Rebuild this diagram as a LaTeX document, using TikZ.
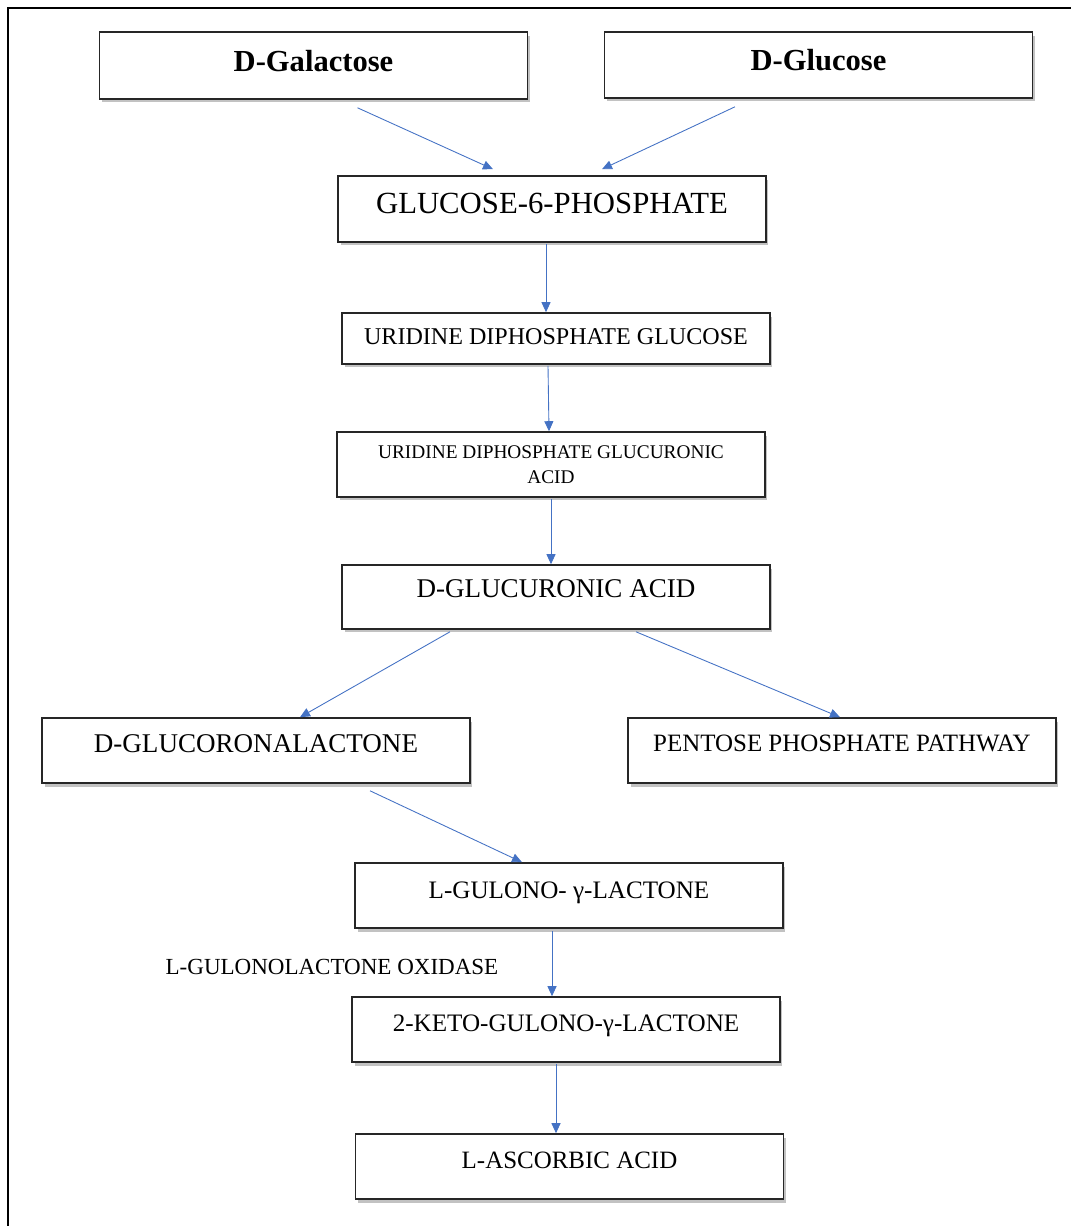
\documentclass[tikz,border=0pt]{standalone}
\usepackage{fontspec}
\setmainfont{Liberation Serif}
\usepackage{xcolor}
\usetikzlibrary{calc, shadows, arrows.meta}

\definecolor{arrowblue}{HTML}{4472C4}

\tikzset{
  box/.style={draw=black!85, line width=0.9pt, fill=white,
    minimum width=8.56cm, minimum height=1.3cm, inner sep=0pt,
    align=center, text depth=#1,
    drop shadow={shadow xshift=0.05cm, shadow yshift=-0.07cm,
      opacity=0.4, fill=black!60}},
  box/.default=0.27cm,
  link/.style={->, draw=arrowblue, line width=0.5pt},
}

\begin{document}
\begin{tikzpicture}[x=0.02cm, y=-0.02cm, >={Triangle[length=0.2cm, width=0.18cm]}]
    \useasboundingbox (0,0) rectangle (1071,1226);
    % Khung ngoài
    \draw[line width=1.7pt] (8,1226) -- (8,8) -- (1071,8);

    % Các hộp
    \node[box=0.2cm, minimum height=1.34cm, font=\fontsize{17.4}{20}\selectfont\bfseries]
        (gal) at (313.5,65.5) {D-Galactose};
    \node[box=0.2cm, minimum height=1.32cm, font=\fontsize{17.4}{20}\selectfont\bfseries]
        (glc) at (818.5,65) {D-Glucose};
    \node[box=0.22cm, minimum height=1.32cm, font=\fontsize{17.5}{20}\selectfont]
        (g6p) at (552,209) {GLUCOSE-6-PHOSPHATE};
    \node[box=0.06cm, minimum height=1.02cm, font=\fontsize{13.7}{16}\selectfont]
        (udpg) at (556,338.5) {URIDINE DIPHOSPHATE GLUCOSE};
    \node[box=0pt, font=\fontsize{11}{14.2}\selectfont]
        (udpga) at (551,464.5) {URIDINE DIPHOSPHATE GLUCURONIC\\ACID};
    \node[box=0.32cm, minimum height=1.28cm, font=\fontsize{15.4}{18}\selectfont]
        (glca) at (556,597) {D-GLUCURONIC ACID};
    \node[box=0.26cm, font=\fontsize{15.4}{18}\selectfont]
        (lact) at (256,750.5) {D-GLUCORONALACTONE};
    \node[box=0.31cm, font=\fontsize{14.2}{17}\selectfont]
        (ppp) at (842,750.5) {PENTOSE PHOSPHATE PATHWAY};
    \node[box=0.23cm, font=\fontsize{14.3}{17}\selectfont]
        (gul) at (569,895.5) {L-GULONO- γ-LACTONE};
    \node[box, font=\fontsize{14.3}{17}\selectfont]
        (keto) at (566,1029.5) {2-KETO-GULONO-γ-LACTONE};
    \node[box, font=\fontsize{14.2}{17}\selectfont]
        (asc) at (569.5,1166.5) {L-ASCORBIC ACID};

    % Enzym
    \node[font=\fontsize{13.1}{15}\selectfont] (enzyme) at (332,967) {L-GULONOLACTONE OXIDASE};

    % Mũi tên
    \draw[link] ($(gal.south)+(44,8)$) -- ($(g6p.north)+(-59,-6)$);
    \draw[link] ($(glc.south)+(-83.5,8)$) -- ($(g6p.north)+(50,-6)$);
    \draw[link] ($(g6p.south)+(-6,1)$) -- ($(udpg.north)+(-10,0)$);
    \draw[link] ($(udpg.south)+(-8,1)$) -- ($(udpga.north)+(-2,0)$);
    \draw[link] ($(udpga.south)+(0,1)$) -- ($(glca.north)+(-5,0)$);
    \draw[link] ($(glca.south)+(-106,2)$) -- ($(lact.north)+(44,0)$);
    \draw[link] ($(glca.south)+(80,2)$) -- ($(ppp.north)+(-2,0)$);
    \draw[link] ($(lact.south)+(114,7)$) -- ($(gul.north)+(-47,0)$);
    \draw[link] ($(gul.south)+(-17,2)$) -- ($(keto.north)+(-14,0)$);
    \draw[link] ($(keto.south)+(-10,1)$) -- ($(asc.north)+(-13.5,0)$);
\end{tikzpicture}
\end{document}
